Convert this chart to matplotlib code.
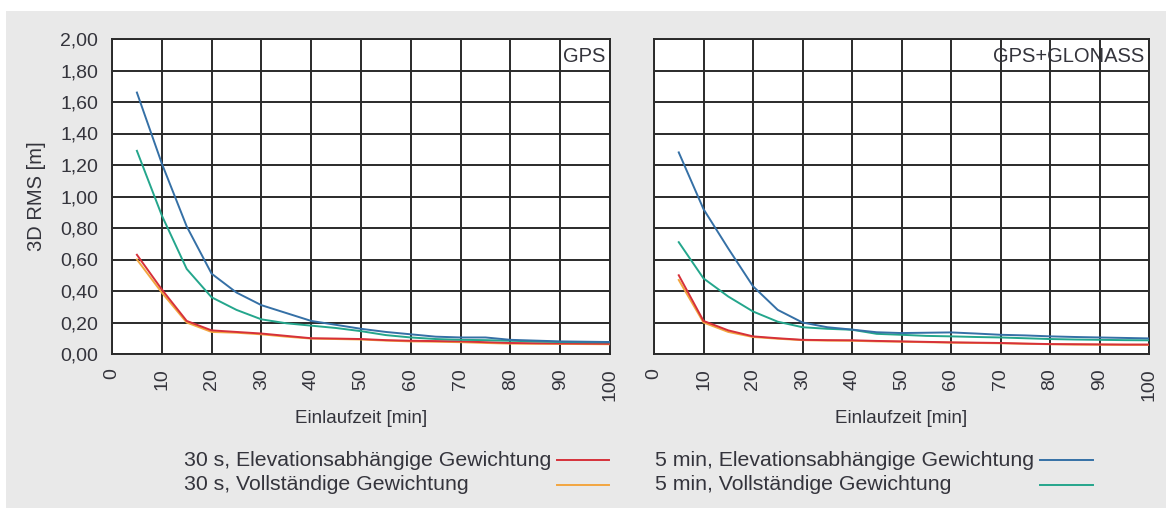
import matplotlib.pyplot as plt
from matplotlib.lines import Line2D
from matplotlib.patches import Rectangle
from matplotlib.ticker import FuncFormatter

############################# DATEN ####################################################################################
zeit = [5, 10, 15, 20, 25, 30, 35, 40, 45, 50, 55, 60, 65, 70, 75, 80, 85, 90, 95, 100]     # Einlaufzeit [min]

# GPS
gps_30s_elev = [0.63, 0.41, 0.21, 0.15, 0.14, 0.13, 0.115, 0.10, 0.098, 0.095,
                0.088, 0.084, 0.082, 0.08, 0.075, 0.07, 0.068, 0.067, 0.066, 0.065]
gps_30s_voll = [0.60, 0.39, 0.20, 0.14, 0.135, 0.125, 0.11, 0.098, 0.095, 0.092,
                0.085, 0.08, 0.078, 0.075, 0.07, 0.066, 0.065, 0.064, 0.063, 0.062]
gps_5min_elev = [1.66, 1.21, 0.81, 0.51, 0.39, 0.31, 0.26, 0.21, 0.185, 0.16,
                 0.14, 0.125, 0.11, 0.105, 0.105, 0.09, 0.085, 0.08, 0.078, 0.076]
gps_5min_voll = [1.29, 0.88, 0.54, 0.36, 0.28, 0.22, 0.195, 0.18, 0.165, 0.145,
                 0.12, 0.105, 0.095, 0.09, 0.088, 0.084, 0.08, 0.076, 0.075, 0.074]

# GPS+GLONASS
glo_30s_elev = [0.50, 0.21, 0.15, 0.112, 0.10, 0.09, 0.088, 0.087, 0.083, 0.08,
                0.077, 0.074, 0.072, 0.07, 0.066, 0.063, 0.062, 0.061, 0.06, 0.06]
glo_30s_voll = [0.47, 0.20, 0.14, 0.108, 0.097, 0.088, 0.085, 0.084, 0.08, 0.078,
                0.075, 0.072, 0.07, 0.068, 0.065, 0.062, 0.06, 0.059, 0.058, 0.058]
glo_5min_elev = [1.28, 0.92, 0.67, 0.43, 0.28, 0.20, 0.17, 0.155, 0.138, 0.133,
                 0.135, 0.137, 0.13, 0.122, 0.118, 0.112, 0.108, 0.105, 0.102, 0.099]
glo_5min_voll = [0.71, 0.48, 0.365, 0.27, 0.205, 0.17, 0.16, 0.154, 0.128, 0.122,
                 0.115, 0.112, 0.108, 0.105, 0.10, 0.095, 0.092, 0.09, 0.088, 0.087]

labels = ['30 s, Elevationsabhängige Gewichtung', '30 s, Vollständige Gewichtung',
          '5 min, Elevationsabhängige Gewichtung', '5 min, Vollständige Gewichtung']
farben = ['#d6303a', '#f3a640', '#3570a6', '#24a68c']
titel = ['GPS', 'GPS+GLONASS']

x_ticks = [0, 10, 20, 30, 40, 50, 60, 70, 80, 90, 100]
y_ticks = [0.0, 0.2, 0.4, 0.6, 0.8, 1.0, 1.2, 1.4, 1.6, 1.8, 2.0]
########################################################################################################################

plt.rcParams['font.family'] = ['Liberation Sans', 'DejaVu Sans']
textfarbe = '#34343c'
gitter = '#2a2a2a'

fig = plt.figure(figsize=(11.66, 5.08), dpi=100)
fig.patch.set_facecolor('white')
fig.patches.append(Rectangle((6 / 1166, 0), 1, 1 - 11 / 508, transform=fig.transFigure,
                             facecolor='#e9e9e9', edgecolor='none', zorder=-10))

ax1 = fig.add_axes([112 / 1166, 1 - 354 / 508, 498 / 1166, 315 / 508])
ax2 = fig.add_axes([654 / 1166, 1 - 354 / 508, 495 / 1166, 315 / 508])

daten = [
    [gps_30s_elev, gps_30s_voll, gps_5min_elev, gps_5min_voll],
    [glo_30s_elev, glo_30s_voll, glo_5min_elev, glo_5min_voll],
]

for ax, serien, t in zip([ax1, ax2], daten, titel):
    ax.set_facecolor('white')
    # Reihenfolge: orange, rot, tuerkis, blau
    for idx in [1, 0, 3, 2]:
        ax.plot(zeit, serien[idx], color=farben[idx], lw=1.4, zorder=3)
    ax.set_xlim(0, 100)
    ax.set_ylim(0, 2.0)
    ax.set_xticks(x_ticks)
    ax.set_yticks(y_ticks)
    ax.grid(True, color=gitter, lw=1.4, zorder=1)
    ax.set_axisbelow(True)
    for s in ax.spines.values():
        s.set_color(gitter)
        s.set_linewidth(1.4)
    ax.tick_params(axis='both', length=0, labelsize=14, labelcolor=textfarbe)
    ax.tick_params(axis='x', pad=10, labelrotation=90)
    ax.tick_params(axis='y', pad=10)
    ax.set_xlabel('Einlaufzeit [min]', fontsize=13.5, color=textfarbe, labelpad=7)
    ax.text(0.99, 0.945, t, transform=ax.transAxes, ha='right', va='center',
            fontsize=14.5, color=textfarbe, zorder=5)

ax1.yaxis.set_major_formatter(FuncFormatter(lambda v, p: ('%.2f' % v).replace('.', ',')))
ax1.set_ylabel('3D RMS [m]', fontsize=14.5, color=textfarbe, labelpad=10)
ax2.set_yticklabels([])

############################# LEGENDE ##################################################################################
zeilen_y = [1 - 460 / 508, 1 - 485 / 508]
spalten = [(184, 557, 609), (655, 1040, 1093)]
for i in range(4):
    tx, l0, l1 = spalten[i // 2]
    y = zeilen_y[i % 2]
    fig.text(tx / 1166, y, labels[i], ha='left', va='center', fontsize=15.3, color=textfarbe)
    fig.add_artist(Line2D([l0 / 1166, l1 / 1166], [y, y], transform=fig.transFigure,
                          color=farben[i], lw=1.4))

fig.savefig('out.png', dpi=100, facecolor=fig.get_facecolor())
